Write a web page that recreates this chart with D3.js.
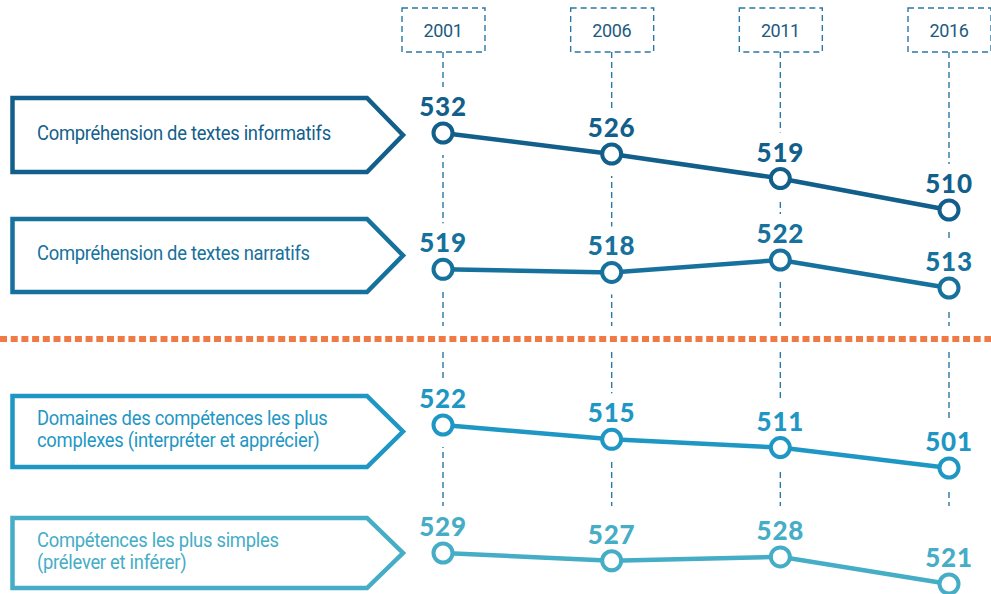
<!DOCTYPE html>
<html>
<head>
<meta charset="utf-8">
<script src="https://cdn.jsdelivr.net/npm/d3@7"></script>
<style>
	body { margin: 0; background: #fff; }
</style>
</head>
<body>
<div id="chart"></div>
<script>
// data
var years = ["2001", "2006", "2011", "2016"];
var labels = [
	["Compréhension de textes informatifs"],
	["Compréhension de textes narratifs"],
	["Domaines des compétences les plus", "complexes (interpréter et apprécier)"],
	["Compétences les plus simples", "(prélever et inférer)"]
];
var informatifs = [532, 526, 519, 510];
var narratifs = [519, 518, 522, 513];
var complexes = [522, 515, 511, 501];
var simples = [529, 527, 528, 521];

(function() {
	var width = 991,
		height = 594;

	var series = [informatifs, narratifs, complexes, simples];
	var colors = ["#135f8c", "#16719d", "#1f97c4", "#45adc6"];

	// row layout (box edges and the pixel band for each line)
	var rowTop = [98, 219, 396, 518],
		rowBottom = [172, 292, 467, 588],
		bands = [[210, 133], [288, 260], [468, 425], [584, 553]];

	var svg = d3.select("#chart")
		.append("svg")
		.attr("width", width)
		.attr("height", height)
		.style("font-family", "Roboto, sans-serif");

	var x = d3.scalePoint().domain(years).range([443, 949]);

	var yScales = series.map(function(s, i) {
		return d3.scaleLinear().domain(d3.extent(s)).range(bands[i]);
	});

	// vertical guides
	svg.selectAll(".guide")
		.data(years)
		.enter().append("line")
		.attr("class", "guide")
		.attr("x1", function(d) { return x(d); })
		.attr("x2", function(d) { return x(d); })
		.attr("y1", 52)
		.attr("y2", 506)
		.attr("stroke", "#2a78a3")
		.attr("stroke-width", 1.4)
		.attr("stroke-dasharray", "6,4");

	// knock the guides out behind labels and points
	series.forEach(function(s, i) {
		svg.selectAll(".knock" + i)
			.data(s)
			.enter().append("rect")
			.attr("x", function(d, j) { return x(years[j]) - 4; })
			.attr("y", function(d) { return yScales[i](d) - 46; })
			.attr("width", 8)
			.attr("height", 68)
			.attr("fill", "#fff");
	});

	// separator
	svg.append("rect")
		.attr("x", 0).attr("y", 326)
		.attr("width", width).attr("height", 24)
		.attr("fill", "#fff");
	svg.append("line")
		.attr("x1", 0).attr("x2", width)
		.attr("y1", 339).attr("y2", 339)
		.attr("stroke", "#f07a45")
		.attr("stroke-width", 6)
		.attr("stroke-dasharray", "7,3.7");

	// year boxes
	var yearG = svg.selectAll(".year")
		.data(years)
		.enter().append("g")
		.attr("class", "year")
		.attr("transform", function(d) { return "translate(" + x(d) + ",0)"; });

	yearG.append("rect")
		.attr("x", -41)
		.attr("y", 8)
		.attr("width", 83)
		.attr("height", 44)
		.attr("fill", "#fff")
		.attr("stroke", "#2a78a3")
		.attr("stroke-width", 1.4)
		.attr("stroke-dasharray", "6,4");

	yearG.append("text")
		.attr("y", 37)
		.attr("text-anchor", "middle")
		.attr("font-size", 18)
		.attr("letter-spacing", -0.4)
		.attr("fill", "#1d5a80")
		.text(function(d) { return d; });

	// label arrows
	labels.forEach(function(lines, i) {
		var t = rowTop[i], b = rowBottom[i], m = (t + b) / 2;
		svg.append("path")
			.attr("d", "M12.5," + t + "H367L403," + m + "L367," + b + "H12.5Z")
			.attr("fill", "#fff")
			.attr("stroke", colors[i])
			.attr("stroke-width", 4.5)
			.attr("stroke-linejoin", "miter");

		svg.append("text")
			.attr("transform", "translate(37,0) scale(0.92,1)")
			.attr("font-size", 20)
			.attr("letter-spacing", -0.3)
			.attr("fill", colors[i])
			.selectAll("tspan")
			.data(lines)
			.enter().append("tspan")
			.attr("x", 0)
			.attr("y", function(d, j) { return m + 5 - (lines.length - 1) * 11 + j * 22; })
			.text(function(d) { return d; });
	});

	// lines and points
	series.forEach(function(s, i) {
		var line = d3.line()
			.x(function(d, j) { return x(years[j]); })
			.y(function(d) { return yScales[i](d); });

		svg.append("path")
			.datum(s)
			.attr("d", line)
			.attr("fill", "none")
			.attr("stroke", colors[i])
			.attr("stroke-width", 4.5);

		svg.selectAll(".pt" + i)
			.data(s)
			.enter().append("circle")
			.attr("cx", function(d, j) { return x(years[j]); })
			.attr("cy", function(d) { return yScales[i](d); })
			.attr("r", 9.5)
			.attr("fill", "#fff")
			.attr("stroke", colors[i])
			.attr("stroke-width", 4);

		svg.selectAll(".val" + i)
			.data(s)
			.enter().append("text")
			.attr("x", function(d, j) { return x(years[j]); })
			.attr("y", function(d) { return yScales[i](d) - 17; })
			.attr("text-anchor", "middle")
			.attr("font-family", "Lato, sans-serif")
			.attr("font-weight", 900)
			.attr("font-size", 26)
			.attr("letter-spacing", 0.8)
			.attr("fill", colors[i])
			.text(function(d) { return d; });
	});
})();
</script>
</body>
</html>
